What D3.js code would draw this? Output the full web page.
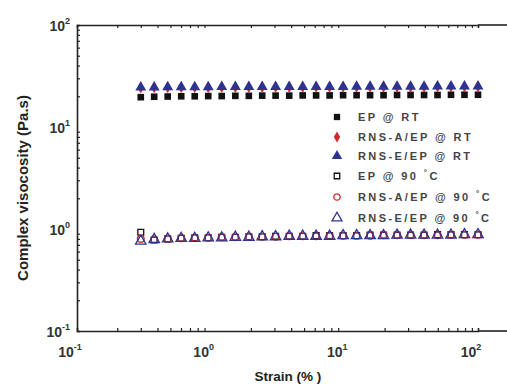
<!DOCTYPE html>
<html>
<head>
<meta charset="utf-8">
<script src="https://cdn.jsdelivr.net/npm/d3@7"></script>
<style>
  html, body { margin: 0; padding: 0; background: #fff; }
  svg { display: block; font-family: Arial, "Liberation Sans", sans-serif; }
  .tick-label { font-size: 14px; font-weight: bold; fill: #333; }
  .title { font-weight: bold; fill: #222; }
  .legend-text { font-size: 11px; font-weight: bold; fill: #444; letter-spacing: 2.4px; }
</style>
</head>
<body>
<svg id="chart" width="507" height="386"></svg>
<script>
// strain values (%), shared by all series
const strain = [0.3, 0.378, 0.477, 0.602, 0.76, 0.959, 1.21, 1.53, 1.93, 2.43,
  3.06, 3.87, 4.88, 6.15, 7.76, 9.79, 12.35, 15.58, 19.65, 24.8,
  31.3, 39.5, 49.8, 62.8, 79.2, 100];

// complex viscosity (Pa.s)
const epRT = [19.6, 19.8, 19.9, 20.0, 20.0, 20.1, 20.1, 20.2, 20.2, 20.3,
  20.3, 20.3, 20.4, 20.4, 20.4, 20.5, 20.5, 20.5, 20.5, 20.6,
  20.6, 20.6, 20.6, 20.7, 20.7, 20.7];
const rnsaRT = [24.3, 24.4, 24.4, 24.5, 24.5, 24.5, 24.6, 24.6, 24.6, 24.6,
  24.7, 24.7, 24.7, 24.7, 24.7, 24.8, 24.8, 24.8, 24.8, 24.8,
  24.8, 24.8, 24.9, 24.9, 24.9, 24.9];
const rnseRT = [24.5, 24.5, 24.6, 24.6, 24.6, 24.6, 24.7, 24.7, 24.7, 24.7,
  24.7, 24.8, 24.8, 24.8, 24.8, 24.8, 24.9, 24.9, 24.9, 24.9,
  24.9, 24.9, 25.0, 25.0, 25.0, 25.0];
const ep90 = [0.93, 0.78, 0.8, 0.81, 0.82, 0.82, 0.83, 0.83, 0.84, 0.84,
  0.85, 0.85, 0.85, 0.86, 0.86, 0.86, 0.86, 0.87, 0.87, 0.87,
  0.87, 0.87, 0.88, 0.88, 0.88, 0.88];
const rnsa90 = [0.8, 0.79, 0.8, 0.81, 0.82, 0.82, 0.83, 0.83, 0.84, 0.84,
  0.84, 0.85, 0.85, 0.85, 0.86, 0.86, 0.86, 0.86, 0.87, 0.87,
  0.87, 0.87, 0.87, 0.88, 0.88, 0.88];
const rnse90 = [0.76, 0.79, 0.8, 0.81, 0.81, 0.82, 0.82, 0.83, 0.83, 0.84,
  0.84, 0.85, 0.85, 0.85, 0.85, 0.86, 0.86, 0.86, 0.86, 0.87,
  0.87, 0.87, 0.87, 0.87, 0.88, 0.88];

const seriesNames = ["EP @ RT", "RNS-A/EP @ RT", "RNS-E/EP @ RT",
  "EP @ 90 °C", "RNS-A/EP @ 90 °C", "RNS-E/EP @ 90 °C"];
const seriesValues = [epRT, rnsaRT, rnseRT, ep90, rnsa90, rnse90];
const decades = [0.1, 1, 10, 100];
const exponents = ["-1", "0", "1", "2"];

// marker styles
const NAVY = "#2f3390", RED = "#d02a30", INK = "#111";
const styles = [
  { shape: d3.symbolSquare, size: 44, fill: INK, stroke: "none" },
  { shape: d3.symbolDiamond, size: 40, fill: RED, stroke: "none" },
  { shape: d3.symbolTriangle, size: 52, fill: NAVY, stroke: "none" },
  { shape: d3.symbolSquare, size: 34, fill: "none", stroke: INK },
  { shape: d3.symbolCircle, size: 36, fill: "none", stroke: RED },
  { shape: d3.symbolTriangle, size: 48, fill: "none", stroke: NAVY }
];

const svg = d3.select("#chart");
const plotLeft = 77, plotRight = 478, plotTop = 25, plotBottom = 331;

const x = d3.scaleLog().domain([0.1, 100]).range([plotLeft, plotRight]);
const y = d3.scaleLog().domain([0.1, 100]).range([plotBottom, plotTop]);

// minor ticks 2..9 of each decade
const minor = [];
decades.slice(0, 3).forEach(d => {
  for (let k = 2; k <= 9; k++) minor.push(d * k);
});

function drawAxis(gen, transform) {
  const g = svg.append("g").attr("transform", transform);
  g.call(gen(decades).tickSize(-6));
  g.call(gen(minor).tickSize(-3));
  g.selectAll("path.domain").attr("stroke", "#222").attr("stroke-width", 1.6);
  g.selectAll(".tick line").attr("stroke", "#222").attr("stroke-width", 1.2);
  g.selectAll(".tick text").remove();
  return g;
}

drawAxis(v => d3.axisBottom(x).tickValues(v).tickFormat(""), `translate(0,${plotBottom})`);
drawAxis(v => d3.axisTop(x).tickValues(v).tickFormat(""), `translate(0,${plotTop})`);
drawAxis(v => d3.axisLeft(y).tickValues(v).tickFormat(""), `translate(${plotLeft},0)`);

// the frame runs on past the last decade to the picture's edge
[plotTop, plotBottom].forEach(yy => {
  svg.append("line")
    .attr("x1", plotRight).attr("x2", 507).attr("y1", yy).attr("y2", yy)
    .attr("stroke", "#222").attr("stroke-width", 1.6);
});

// tick labels: 10 with a superscript exponent
decades.forEach((d, i) => {
  const tx = svg.append("text").attr("class", "tick-label")
    .attr("x", x(d) - 7).attr("y", 357).attr("text-anchor", "middle");
  tx.append("tspan").text("10");
  tx.append("tspan").attr("dy", -7).attr("font-size", 9).text(exponents[i]);

  const ty = svg.append("text").attr("class", "tick-label")
    .attr("x", 70).attr("y", y(d) + 6).attr("text-anchor", "end");
  ty.append("tspan").text("10");
  ty.append("tspan").attr("dy", -7).attr("font-size", 9).text(exponents[i]);
});

// axis titles
svg.append("text").attr("class", "title")
  .attr("x", 288).attr("y", 381).attr("text-anchor", "middle")
  .attr("font-size", 13.5)
  .text("Strain (% )");
svg.append("text").attr("class", "title")
  .attr("transform", "translate(28,188) rotate(-90)")
  .attr("text-anchor", "middle")
  .attr("font-size", 15)
  .text("Complex visocosity (Pa.s)");

// data markers
seriesValues.forEach((vals, i) => {
  const st = styles[i];
  const sym = d3.symbol().type(st.shape).size(st.size);
  svg.append("g").selectAll("path")
    .data(strain.map((s, j) => [s, vals[j]]))
    .join("path")
    .attr("d", sym)
    .attr("transform", d => `translate(${x(d[0])},${y(d[1])})`)
    .attr("fill", st.fill)
    .attr("stroke", st.stroke)
    .attr("stroke-width", 1.3);
});

// legend
const legendY = [117, 137, 156, 176, 197, 218];
seriesNames.forEach((name, i) => {
  const st = styles[i];
  svg.append("path")
    .attr("d", d3.symbol().type(st.shape).size(st.size * 0.9)())
    .attr("transform", `translate(337,${legendY[i]})`)
    .attr("fill", st.fill)
    .attr("stroke", st.stroke)
    .attr("stroke-width", 1.3);
  const t = svg.append("text").attr("class", "legend-text")
    .attr("x", 358).attr("y", legendY[i] + 4);
  if (name.includes("°")) {
    const [head] = name.split("°");
    t.append("tspan").text(head);
    t.append("tspan").attr("dy", -5).attr("font-size", 8).text("°");
    t.append("tspan").attr("dy", 5).text("C");
  } else {
    t.text(name);
  }
});
</script>
</body>
</html>
